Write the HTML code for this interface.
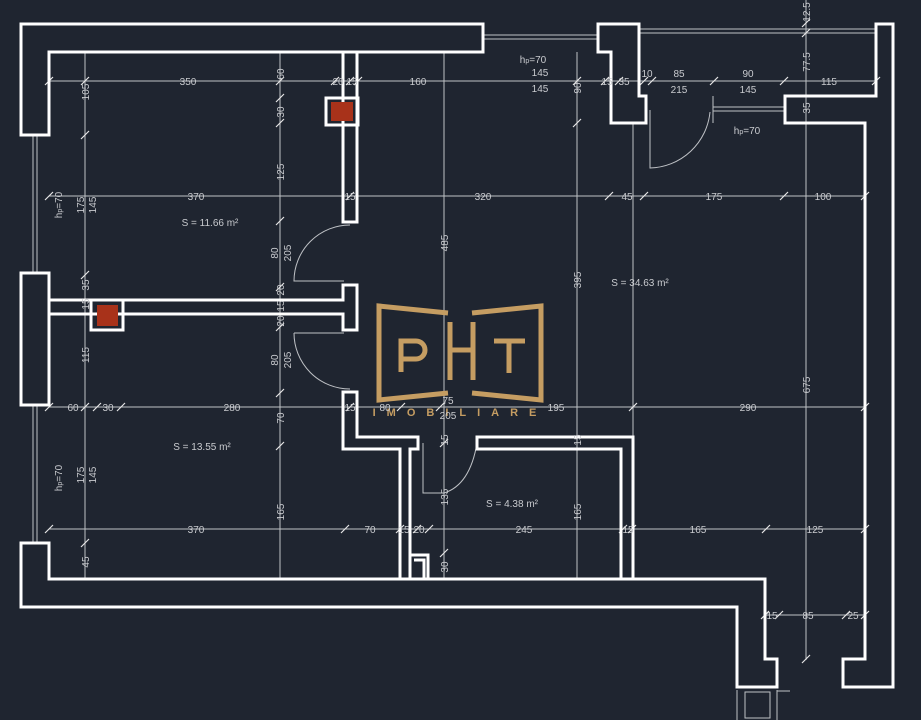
<!DOCTYPE html>
<html><head><meta charset="utf-8"><style>
html,body{margin:0;padding:0;background:#1f2530;}
svg{display:block}
text{font-family:"Liberation Sans",sans-serif;fill:#c9cbcf;font-size:10px}
</style></head><body>
<svg width="921" height="720" viewBox="0 0 921 720" xmlns="http://www.w3.org/2000/svg">
<rect width="921" height="720" fill="#1f2530"/>
<!-- dimension lines -->
<g stroke="#bfc2c6" stroke-width="1" fill="none">
<line x1="49" y1="81" x2="876" y2="81"/>
<line x1="49" y1="196" x2="865" y2="196"/>
<line x1="49" y1="407" x2="865" y2="407"/>
<line x1="49" y1="529" x2="865" y2="529"/>
<line x1="765" y1="615" x2="866" y2="615"/>
<line x1="85" y1="52" x2="85" y2="579"/>
<line x1="280" y1="52" x2="280" y2="579"/>
<line x1="444" y1="52" x2="444" y2="579"/>
<line x1="577" y1="52" x2="577" y2="579"/>
<line x1="633" y1="123" x2="633" y2="437"/>
<line x1="806" y1="0" x2="806" y2="660"/>
<!-- window lines -->
<line x1="483" y1="35" x2="598" y2="35"/><line x1="483" y1="39" x2="598" y2="39"/>
<line x1="639" y1="29" x2="876" y2="29"/><line x1="639" y1="33" x2="876" y2="33"/>
<line x1="713" y1="107" x2="784" y2="107"/><line x1="713" y1="111" x2="784" y2="111"/>
<line x1="713" y1="96" x2="713" y2="123"/>
<line x1="33" y1="135" x2="33" y2="273"/><line x1="37" y1="135" x2="37" y2="273"/>
<line x1="33" y1="405" x2="33" y2="543"/><line x1="37" y1="405" x2="37" y2="543"/>
<line x1="737" y1="690" x2="737" y2="720"/><line x1="777" y1="690" x2="777" y2="720"/>
<rect x="745" y="692" width="25" height="26"/>
<line x1="777" y1="691" x2="790" y2="691"/>
<!-- doors -->
<path d="M350 225 A56 56 0 0 0 294 281 L344 281"/>
<path d="M294 333 A56 56 0 0 0 350 389 M294 333 L344 333"/>
<path d="M650 110 L650 168 A62 62 0 0 0 710 112"/>
<path d="M423 443 L423 493 L444 493 Q470 485 477 443"/>
</g>
<!-- ticks -->
<g stroke="#e6e6e6" stroke-width="1.2">
<path d="M45 85l8-8M81 85l8-8M276 85l8-8M331 85l8-8M346 85l8-8M354 85l8-8M573 85l8-8M601 85l8-8M615 85l8-8M640 85l8-8M648 85l8-8M710 85l8-8M780 85l8-8M872 85l8-8"/>
<path d="M45 200l8-8M346 200l8-8M605 200l8-8M640 200l8-8M780 200l8-8M861 200l8-8"/>
<path d="M45 411l8-8M81 411l8-8M93 411l8-8M117 411l8-8M346 411l8-8M397 411l8-8M436 411l8-8M629 411l8-8M861 411l8-8"/>
<path d="M45 533l8-8M341 533l8-8M396 533l8-8M413 533l8-8M425 533l8-8M619 533l8-8M628 533l8-8M762 533l8-8M861 533l8-8"/>
<path d="M761 619l8-8M775 619l8-8M842 619l8-8M861 619l8-8"/>
<path d="M81 139l8-8M81 279l8-8M81 547l8-8M276 102l8-8M276 127l8-8M276 225l8-8M276 291l8-8M276 331l8-8M276 397l8-8M276 450l8-8M573 127l8-8M802 27l8-8M802 37l8-8M802 663l8-8M440 447l8-8M440 557l8-8"/>
</g>
<!-- walls -->
<g stroke="#ffffff" stroke-width="3" fill="none" stroke-linejoin="miter">
<path d="M483 24 H21 V135 H49 V52 H483 Z"/>
<path d="M21 273 H49 V405 H21 Z"/>
<path d="M21 543 H49 V579 H765 V659 H777 V687 H737 V607 H21 Z"/>
<path d="M598 24 H639 V96 H646 V123 H611 V52 H598 Z"/>
<path d="M876 24 H893 V687 H843 V659 H865 V123 H785 V96 H876 Z"/>
<path d="M343 52 H357 V222 H343 Z"/>
<path d="M326 98 H358 V125 H326 Z"/>
<path d="M49 300 H343 V285 H357 V330 H343 V314 H49"/>
<path d="M91 300 H123 V330 H91 Z"/>
<path d="M343 392 H357 V437 H418 V449 H410 V579 H400 V449 H343 Z"/>
<path d="M410 555 H428 V579 M414 560 H424 V579"/>
<path d="M477 437 H633 V579 H621 V449 H477 Z"/>
</g>
<rect x="331" y="102" width="22" height="19" fill="#a8321a"/>
<rect x="97" y="305" width="21" height="21" fill="#a8321a"/>
<!-- logo -->
<g fill="none" stroke="#c59d62" stroke-width="5">
<path d="M448 313 L379 306 V400 L448 393"/>
<path d="M472 313 L541 306 V400 L472 393"/>
<path d="M450 322 V380 M473 322 V380 M450 350 H473"/>
<path d="M401 372 V341 H416 A9 9 0 0 1 416 359 H401"/>
<path d="M494 341 H525 M509 341 V373"/>
</g>
<text x="460" y="416" text-anchor="middle" style="fill:#c59d62;font-size:11px;letter-spacing:11px;font-weight:bold">IMOBILIARE</text>
<!-- labels -->
<g text-anchor="middle">
<text x="188" y="85">350</text><text x="418" y="85">160</text>
<text x="533" y="63">h<tspan font-size="7">p</tspan>=70</text>
<text x="540" y="76">145</text><text x="540" y="92">145</text>
<text x="338" y="85" font-size="8">20</text><text x="352" y="85" font-size="8">15</text>
<text x="607" y="85" font-size="8">15</text><text x="624" y="85">35</text>
<text x="647" y="77">10</text><text x="679" y="77">85</text><text x="679" y="93">215</text>
<text x="748" y="77">90</text><text x="748" y="93">145</text><text x="829" y="85">115</text>
<text x="747" y="134">h<tspan font-size="7">p</tspan>=70</text>
<text x="196" y="200">370</text><text x="350" y="200" font-size="8">15</text><text x="483" y="200">320</text>
<text x="627" y="200">45</text><text x="714" y="200">175</text><text x="823" y="200">100</text>
<text x="73" y="411">60</text><text x="108" y="411">30</text><text x="232" y="411">280</text>
<text x="350" y="411" font-size="8">15</text><text x="385" y="411">80</text>
<text x="448" y="404">75</text><text x="448" y="419">205</text>
<text x="556" y="411">195</text><text x="748" y="411">290</text>
<text x="196" y="533">370</text><text x="370" y="533">70</text><text x="404" y="533" font-size="8">15</text>
<text x="419" y="533" font-size="8">20</text><text x="524" y="533">245</text><text x="628" y="533" font-size="8">15</text>
<text x="698" y="533">165</text><text x="815" y="533">125</text>
<text x="772" y="619" font-size="8">15</text><text x="808" y="619">85</text><text x="853" y="619">25</text>
<text x="210" y="226">S = 11.66 m²</text>
<text x="640" y="286">S = 34.63 m²</text>
<text x="202" y="450">S = 13.55 m²</text>
<text x="512" y="507">S = 4.38 m²</text>
</g>
<g text-anchor="middle">
<text transform="translate(89,92) rotate(-90)">105</text>
<text transform="translate(84,205) rotate(-90)">175</text><text transform="translate(96,205) rotate(-90)">145</text>
<text transform="translate(89,285) rotate(-90)">35</text><text transform="translate(89,304) rotate(-90)" font-size="8">15</text>
<text transform="translate(89,355) rotate(-90)">115</text>
<text transform="translate(84,475) rotate(-90)">175</text><text transform="translate(96,475) rotate(-90)">145</text>
<text transform="translate(89,562) rotate(-90)">45</text>
<text transform="translate(62,205) rotate(-90)">h<tspan font-size="7">p</tspan>=70</text>
<text transform="translate(62,478) rotate(-90)">h<tspan font-size="7">p</tspan>=70</text>
<text transform="translate(284,74) rotate(-90)">60</text>
<text transform="translate(284,112) rotate(-90)">30</text>
<text transform="translate(284,172) rotate(-90)">125</text>
<text transform="translate(278,253) rotate(-90)">80</text><text transform="translate(291,253) rotate(-90)">205</text>
<text transform="translate(284,290) rotate(-90)" font-size="8">20</text>
<text transform="translate(284,306) rotate(-90)" font-size="8">15</text>
<text transform="translate(284,321) rotate(-90)" font-size="8">20</text>
<text transform="translate(278,360) rotate(-90)">80</text><text transform="translate(291,360) rotate(-90)">205</text>
<text transform="translate(284,418) rotate(-90)">70</text>
<text transform="translate(284,512) rotate(-90)">165</text>
<text transform="translate(448,243) rotate(-90)">485</text>
<text transform="translate(448,440) rotate(-90)" font-size="8">15</text>
<text transform="translate(448,497) rotate(-90)">135</text>
<text transform="translate(448,567) rotate(-90)">30</text>
<text transform="translate(581,88) rotate(-90)">90</text>
<text transform="translate(581,280) rotate(-90)">395</text>
<text transform="translate(581,440) rotate(-90)" font-size="8">15</text>
<text transform="translate(581,512) rotate(-90)">165</text>
<text transform="translate(810,12) rotate(-90)">12.5</text>
<text transform="translate(810,62) rotate(-90)">77.5</text>
<text transform="translate(810,108) rotate(-90)">35</text>
<text transform="translate(810,385) rotate(-90)">675</text>
</g>
</svg>
</body></html>
